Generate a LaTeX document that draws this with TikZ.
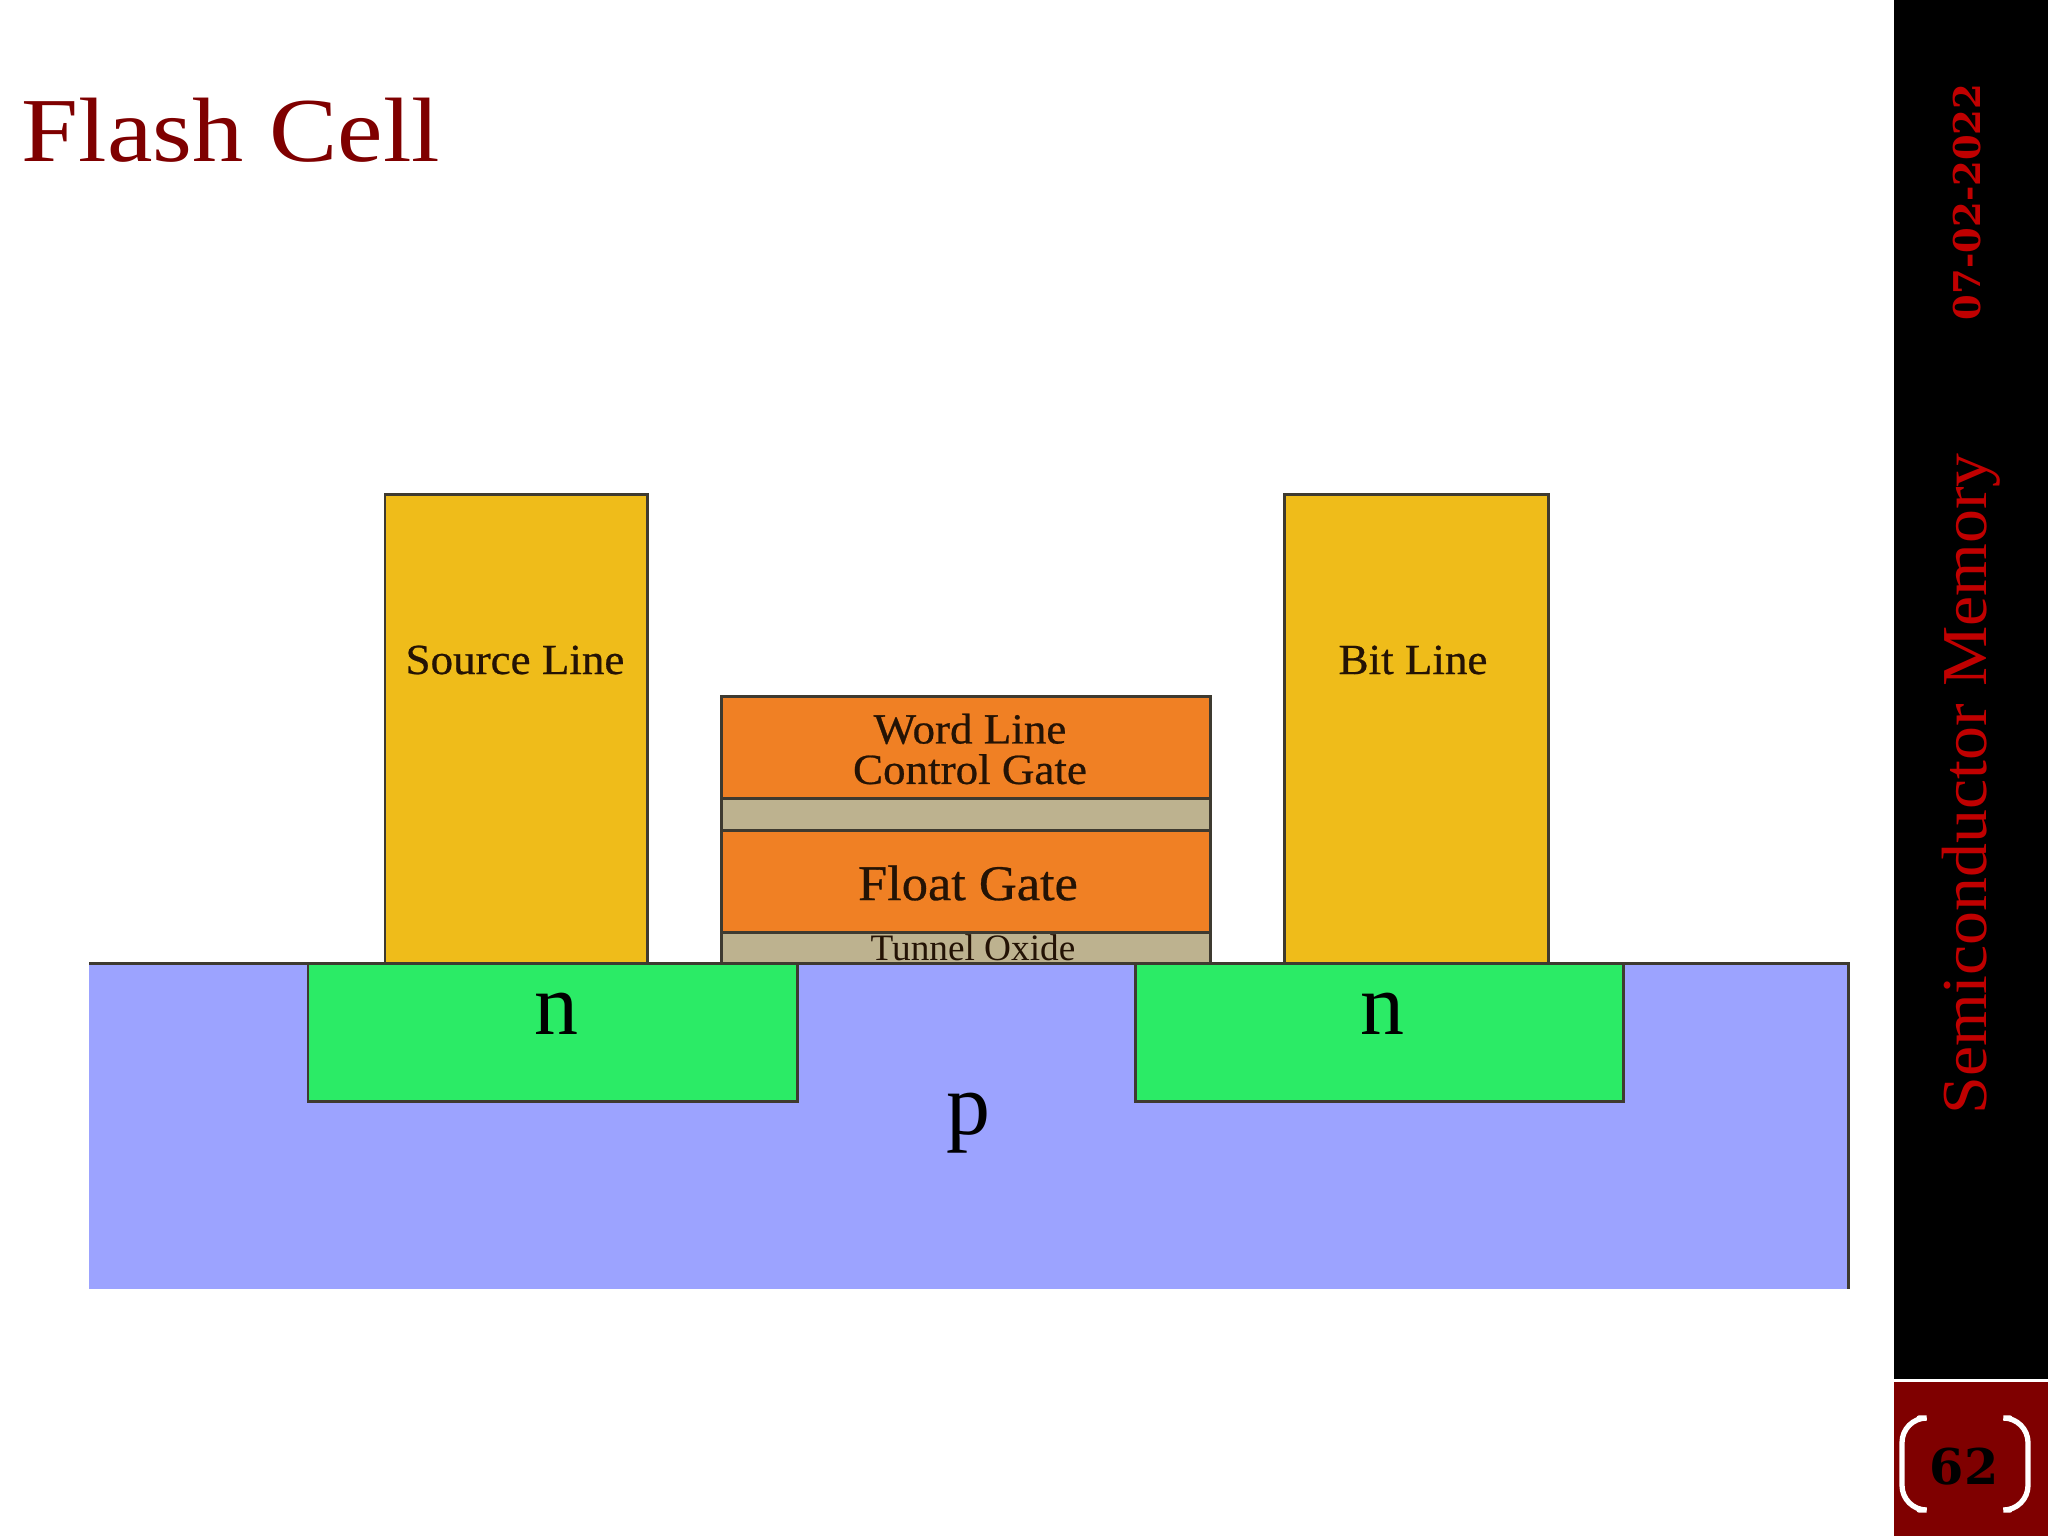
\documentclass[tikz,border=0pt]{standalone}
\usepackage{fontspec}
\setmainfont{Liberation Serif}
\newfontfamily\slabfont{DejaVu Serif}
\newfontfamily\widefont[FakeStretch=1.12]{Liberation Serif}
\newfontfamily\sidefont[FakeStretch=1.06]{Liberation Serif}
\newfontfamily\cellfont[FakeStretch=1.05,FakeBold=0.6]{Liberation Serif}
\definecolor{substrate}{HTML}{9CA3FF}
\definecolor{implant}{HTML}{2BEB66}
\definecolor{metal}{HTML}{EFBC1A}
\definecolor{gate}{HTML}{F08024}
\definecolor{oxide}{HTML}{BDB28F}
\definecolor{edge}{HTML}{3E3A30}
\definecolor{darkred}{HTML}{7F0000}
\definecolor{sidered}{HTML}{C00000}
\tikzset{
  part/.style={draw=edge, line width=0.85pt},
  celltext/.style={text=black!85!gate, inner sep=0pt, align=center, font=\cellfont\fontsize{12.2}{11.5}\selectfont},
  dopetext/.style={text=black, inner sep=0pt, anchor=base, font=\fontsize{25}{28}\selectfont},
  bracket/.style={draw=white, line width=1.5pt, line cap=round, rounded corners=7pt},
}
\begin{document}
\begin{tikzpicture}[x=0.01cm, y=-0.01cm]
    \useasboundingbox (0, 0) rectangle (2048, 1536);
    % title and side bar
    \node[text=darkred, inner sep=0pt] (title) at (231, 130) {\widefont\fontsize{26}{30}\selectfont Flash Cell};
    \fill[black] (1894, 0) rectangle (2048, 1379);
    \fill[darkred] (1894, 1382) rectangle (2048, 1536);
    \node[text=sidered, rotate=90, inner sep=0pt] (date) at (1967, 202) {\slabfont\bfseries\fontsize{10.5}{13}\selectfont 07-02-2022};
    \node[text=sidered, rotate=90, inner sep=0pt] (topic) at (1971, 784) {\sidefont\fontsize{18.2}{22}\selectfont Semiconductor Memory};
    \node[text=black, inner sep=0pt] (page) at (1964, 1467) {\slabfont\bfseries\fontsize{14}{16}\selectfont 62};
    \draw[bracket] (1919, 1418) -- (1902, 1418) -- (1902, 1510) -- (1919, 1510);
    \draw[bracket] (2010, 1418) -- (2028, 1418) -- (2028, 1510) -- (2010, 1510);
    % wafer
    \fill[substrate] (89, 963) rectangle (1848, 1289);
    \draw[part] (89, 963) -- (1848, 963) -- (1848, 1289);
    \draw[part, fill=implant] (308, 963) rectangle (797, 1101);
    \draw[part, fill=implant] (1135, 963) rectangle (1623, 1101);
    % lines
    \draw[part, fill=metal] (385, 494) rectangle (647, 963);
    \draw[part, fill=metal] (1284, 494) rectangle (1548, 963);
    % gate stack
    \draw[part, fill=gate] (721, 696) rectangle (1210, 798);
    \draw[part, fill=oxide] (721, 798) rectangle (1210, 830);
    \draw[part, fill=gate] (721, 830) rectangle (1210, 932);
    \draw[part, fill=oxide] (721, 932) rectangle (1210, 963);
    % labels
    \node[celltext] (source) at (515, 660) {Source Line};
    \node[celltext] (bit) at (1413, 660) {Bit Line};
    \node[celltext] (word) at (970, 749) {Word Line\\Control Gate};
    \node[celltext, font=\cellfont\fontsize{14.2}{16}\selectfont] (float) at (968, 883) {Float Gate};
    \node[celltext, font=\fontsize{10.6}{12}\selectfont] (tunnel) at (973, 948) {Tunnel Oxide};
    \node[dopetext] (nleft) at (556, 1034) {n};
    \node[dopetext] (nright) at (1382, 1034) {n};
    \node[dopetext] (pwell) at (968, 1134) {p};
\end{tikzpicture}
\end{document}
